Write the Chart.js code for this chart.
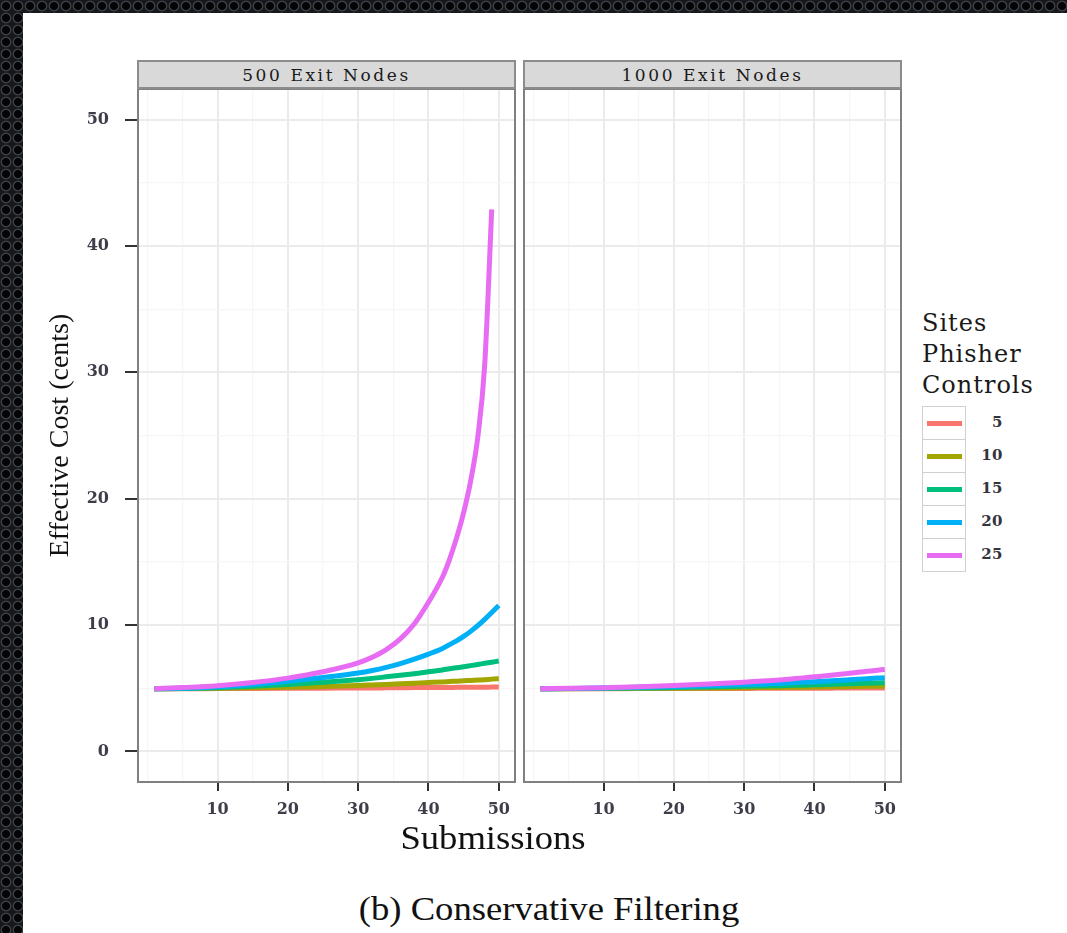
<!DOCTYPE html>
<html>
<head>
<meta charset="utf-8">
<script src="https://cdn.jsdelivr.net/npm/chart.js@4.4.1/dist/chart.umd.min.js"></script>
<style>
  body {
    margin: 0;
    width: 1067px;
    height: 933px;
    overflow: hidden;
    position: relative;
    background: radial-gradient(circle at 6px 6px, #050506 0 3.6px, #3c4048 4.4px 5px, #17181b 5.8px) 0 0 / 12px 12px, #17181b;
  }
  #page { position: absolute; left: 23px; top: 13px; right: 0; bottom: 0; background: #fff; }
  canvas { position: absolute; }
  .strip {
    position: absolute; top: 60px; height: 29px; width: 379px; box-sizing: border-box;
    background: #d9d9d9; border: 2px solid #8c8c8c;
    display: flex; align-items: center; justify-content: center;
    font: 17px "DejaVu Serif"; letter-spacing: 2.6px; color: #1a1a1a;
  }
  .label { position: absolute; white-space: nowrap; font-family: "Liberation Serif"; color: #111; }
  #legend { position: absolute; left: 922px; top: 308px; font: 24px "DejaVu Serif"; letter-spacing: 1px; color: #1a1a1a; }
  #legend .ttl { line-height: 31px; }
  #keys { margin-top: 6px; }
  .key { position: relative; width: 44px; height: 34px; box-sizing: border-box; border: 1px solid #d0d0d0; margin-top: -1px; }
  .key i { position: absolute; left: 4px; right: 3px; top: 14px; height: 5px; }
  .key span { position: absolute; left: 44px; width: 36px; top: 6px; text-align: right; font: bold 15px "DejaVu Serif"; letter-spacing: 0.5px; color: #34343e; }
</style>
</head>
<body>
<div id="page"></div>
<canvas id="left" width="486" height="742" style="left:30px;top:88px"></canvas>
<canvas id="right" width="379" height="742" style="left:523px;top:88px"></canvas>
<div class="strip" id="strip0" style="left:137px"></div>
<div class="strip" id="strip1" style="left:523px"></div>
<div class="label" style="left:493px;top:822px;font-size:33px;line-height:33px;transform:translateX(-50%) scaleX(1.11)">Submissions</div>
<div class="label" style="left:549px;top:893px;font-size:33px;line-height:33px;transform:translateX(-50%) scaleX(1.11)">(b) Conservative Filtering</div>
<div id="legend">
  <div class="ttl">Sites</div>
  <div class="ttl">Phisher</div>
  <div class="ttl">Controls</div>
  <div id="keys"></div>
</div>
<script>
// facets and groups
const panels = ['500 Exit Nodes', '1000 Exit Nodes'];
const siteCounts = ['5', '10', '15', '20', '25'];
const colors = ['#F8766D', '#A3A500', '#00BF7D', '#00B0F6', '#E76BF3'];

// axis breaks
const xBreaks = [10, 20, 30, 40, 50];
const xMinor = [0, 5, 15, 25, 35, 45];
const yBreaks = [0, 10, 20, 30, 40, 50];
const yMinor = [5, 15, 25, 35, 45];

// x values the curves were read at
const submissions = [1, 5, 10, 15, 20, 25, 30, 32, 34, 36, 38, 40, 42, 43, 44, 45, 46, 47, 48, 49, 50];

// 500 exit nodes
const n500s5  = [4.96, 4.96, 4.97, 4.98, 4.99, 5.00, 5.02, 5.02, 5.03, 5.04, 5.05, 5.05, 5.06, 5.06, 5.07, 5.07, 5.08, 5.08, 5.08, 5.09, 5.09];
const n500s10 = [4.96, 4.97, 4.99, 5.03, 5.08, 5.14, 5.22, 5.26, 5.30, 5.35, 5.40, 5.45, 5.50, 5.53, 5.56, 5.59, 5.62, 5.65, 5.68, 5.72, 5.75];
const n500s15 = [4.96, 4.98, 5.04, 5.15, 5.30, 5.48, 5.68, 5.78, 5.90, 6.02, 6.15, 6.30, 6.45, 6.54, 6.62, 6.70, 6.79, 6.88, 6.97, 7.06, 7.15];
const n500s20 = [4.96, 5.00, 5.12, 5.30, 5.55, 5.85, 6.20, 6.40, 6.65, 6.95, 7.30, 7.70, 8.15, 8.45, 8.75, 9.10, 9.50, 9.95, 10.45, 11.0, 11.55];
const n500s25 = [4.96, 5.05, 5.20, 5.45, 5.80, 6.30, 7.00, 7.45, 8.05, 8.90, 10.1, 11.8, 13.8, 15.2, 16.9, 18.9, 21.4, 24.8, 30.6, 42.9, null];

// 1000 exit nodes
const n1000s5  = [4.96, 4.96, 4.96, 4.97, 4.97, 4.98, 4.98, 4.99, 4.99, 4.99, 5.00, 5.00, 5.00, 5.01, 5.01, 5.01, 5.01, 5.01, 5.02, 5.02, 5.02];
const n1000s10 = [4.96, 4.96, 4.97, 4.99, 5.00, 5.02, 5.04, 5.05, 5.06, 5.07, 5.08, 5.09, 5.11, 5.12, 5.12, 5.13, 5.14, 5.15, 5.15, 5.16, 5.17];
const n1000s15 = [4.96, 4.97, 4.99, 5.02, 5.06, 5.10, 5.15, 5.17, 5.19, 5.22, 5.24, 5.27, 5.30, 5.32, 5.34, 5.35, 5.37, 5.39, 5.40, 5.42, 5.43];
const n1000s20 = [4.96, 4.98, 5.01, 5.07, 5.13, 5.20, 5.29, 5.33, 5.37, 5.42, 5.47, 5.52, 5.58, 5.61, 5.64, 5.68, 5.71, 5.74, 5.77, 5.80, 5.83];
const n1000s25 = [4.96, 4.99, 5.04, 5.12, 5.22, 5.34, 5.48, 5.55, 5.62, 5.70, 5.80, 5.90, 6.00, 6.06, 6.12, 6.19, 6.25, 6.31, 6.37, 6.43, 6.49];

const series500 = [n500s5, n500s10, n500s15, n500s20, n500s25];
const series1000 = [n1000s5, n1000s10, n1000s15, n1000s20, n1000s25];

document.getElementById('strip0').textContent = panels[0];
document.getElementById('strip1').textContent = panels[1];

// legend keys
const keys = document.getElementById('keys');
siteCounts.forEach((s, i) => {
  const k = document.createElement('div');
  k.className = 'key';
  k.innerHTML = `<i style="background:${colors[i]}"></i><span>${s}</span>`;
  keys.appendChild(k);
});

const tickFont = { family: 'DejaVu Serif', size: 16, weight: 'bold' };
const tickColor = '#3e3e4a';

const panelBorder = {
  id: 'panelBorder',
  afterDatasetsDraw(chart) {
    const { ctx, chartArea: a } = chart;
    ctx.save();
    ctx.strokeStyle = '#808080';
    ctx.lineWidth = 2;
    ctx.strokeRect(a.left + 1, a.top + 1, a.right - a.left - 2, a.bottom - a.top - 2);
    ctx.restore();
  }
};

function makeDatasets(series) {
  return series.map((vals, i) => ({
    label: siteCounts[i],
    data: submissions.map((x, j) => ({ x, y: vals[j] })),
    borderColor: colors[i],
    borderWidth: 5,
    borderCapStyle: 'butt',
    pointRadius: 0,
    cubicInterpolationMode: 'monotone',
    fill: false,
    order: series.length - 1 - i
  }));
}

function makeChart(id, series, withY) {
  return new Chart(document.getElementById(id), {
    type: 'line',
    data: { datasets: makeDatasets(series) },
    options: {
      responsive: false,
      animation: false,
      layout: { padding: 0 },
      plugins: { legend: { display: false }, tooltip: { enabled: false } },
      scales: {
        x: {
          type: 'linear',
          min: -1.45,
          max: 52.45,
          afterBuildTicks: s => {
            s.ticks = xMinor.concat(xBreaks).sort((a, b) => a - b).map(v => ({ value: v }));
          },
          afterFit: s => { s.height = 47; s.paddingLeft = 0; s.paddingRight = 0; },
          border: { display: false },
          grid: {
            color: c => xBreaks.includes(c.tick.value) ? '#ebebeb' : '#f6f6f6',
            lineWidth: c => xBreaks.includes(c.tick.value) ? 2 : 1.2,
            tickLength: 8,
            tickWidth: 2,
            tickColor: c => xBreaks.includes(c.tick.value) ? '#333' : 'rgba(0,0,0,0)'
          },
          ticks: {
            autoSkip: false,
            maxRotation: 0,
            padding: 9,
            font: tickFont,
            color: tickColor,
            callback: v => xBreaks.includes(v) ? String(v) : ''
          }
        },
        y: {
          type: 'linear',
          min: -2.5,
          max: 52.5,
          afterBuildTicks: s => {
            s.ticks = yMinor.concat(yBreaks).sort((a, b) => a - b).map(v => ({ value: v }));
          },
          afterFit: s => { s.width = withY ? 107 : 0; s.paddingTop = 0; s.paddingBottom = 0; },
          border: { display: false },
          grid: {
            color: c => yBreaks.includes(c.tick.value) ? '#ebebeb' : '#f6f6f6',
            lineWidth: c => yBreaks.includes(c.tick.value) ? 2 : 1.2,
            drawTicks: withY,
            tickLength: 12,
            tickWidth: 2,
            tickColor: c => yBreaks.includes(c.tick.value) ? '#333' : 'rgba(0,0,0,0)'
          },
          ticks: {
            display: withY,
            autoSkip: false,
            padding: 16,
            font: tickFont,
            color: tickColor,
            callback: v => yBreaks.includes(v) ? String(v) : ''
          },
          title: {
            display: withY,
            text: 'Effective Cost (cents)',
            font: { family: 'Liberation Serif', size: 28 },
            color: '#111',
            padding: { top: 14, bottom: 0 }
          }
        }
      }
    },
    plugins: [panelBorder]
  });
}

makeChart('left', series500, true);
makeChart('right', series1000, false);
</script>
</body>
</html>
